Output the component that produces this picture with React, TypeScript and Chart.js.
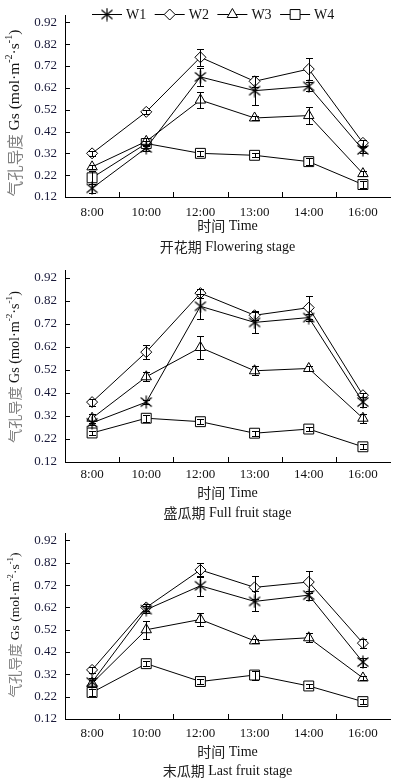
import React, { useEffect, useRef } from 'react';
import { Chart, registerables } from 'chart.js';

Chart.register(...registerables);

// ---------- data ----------
const TIMES = ['8:00', '10:00', '12:00', '13:00', '14:00', '16:00'];
const Y_TICKS = [0.12, 0.22, 0.32, 0.42, 0.52, 0.62, 0.72, 0.82, 0.92];
const SERIES = ['W1', 'W2', 'W3', 'W4'];

// 开花期 Flowering stage
const FLOWER_W1 = [0.16, 0.345, 0.67, 0.607, 0.627, 0.336];
const FLOWER_W2 = [0.32, 0.51, 0.76, 0.65, 0.706, 0.368];
const FLOWER_W3 = [0.258, 0.375, 0.564, 0.482, 0.493, 0.227];
const FLOWER_W4 = [0.208, 0.365, 0.32, 0.311, 0.282, 0.177];
const FLOWER_W1_ERR = [0.02, 0.015, 0.04, 0.065, 0.02, 0.015];
const FLOWER_W2_ERR = [0.01, 0.01, 0.04, 0.025, 0.05, 0.015];
const FLOWER_W3_ERR = [0.01, 0.015, 0.035, 0.01, 0.04, 0.01];
const FLOWER_W4_ERR = [0.03, 0.01, 0.01, 0.01, 0.015, 0.015];

// 盛瓜期 Full fruit stage
const FULL_W1 = [0.29, 0.38, 0.796, 0.726, 0.747, 0.38];
const FULL_W2 = [0.38, 0.597, 0.853, 0.757, 0.79, 0.41];
const FULL_W3 = [0.31, 0.49, 0.617, 0.516, 0.526, 0.31];
const FULL_W4 = [0.246, 0.31, 0.295, 0.245, 0.263, 0.186];
const FULL_W1_ERR = [0.01, 0.01, 0.055, 0.045, 0.015, 0.02];
const FULL_W2_ERR = [0.015, 0.03, 0.02, 0.02, 0.05, 0.01];
const FULL_W3_ERR = [0.02, 0.02, 0.05, 0.02, 0.01, 0.02];
const FULL_W4_ERR = [0.01, 0.015, 0.01, 0.01, 0.01, 0.01];

// 末瓜期 Last fruit stage
const LAST_W1 = [0.285, 0.61, 0.717, 0.647, 0.675, 0.375];
const LAST_W2 = [0.34, 0.62, 0.788, 0.71, 0.734, 0.46];
const LAST_W3 = [0.28, 0.52, 0.566, 0.47, 0.484, 0.304];
const LAST_W4 = [0.239, 0.368, 0.288, 0.317, 0.268, 0.198];
const LAST_W1_ERR = [0.02, 0.015, 0.045, 0.045, 0.02, 0.02];
const LAST_W2_ERR = [0.015, 0.015, 0.03, 0.05, 0.05, 0.02];
const LAST_W3_ERR = [0.015, 0.04, 0.03, 0.01, 0.02, 0.01];
const LAST_W4_ERR = [0.015, 0.01, 0.01, 0.02, 0.01, 0.01];

const Y_MIN = 0.12;
const Y_MAX = 0.95;

// ---------- panel layout ----------
const PANELS = [
  {
    key: 'flower', cn: '开花期', en: ' Flowering stage',
    values: [FLOWER_W1, FLOWER_W2, FLOWER_W3, FLOWER_W4],
    errors: [FLOWER_W1_ERR, FLOWER_W2_ERR, FLOWER_W3_ERR, FLOWER_W4_ERR],
    offset: 0, height: 265, top: 3, bottom: 197, xPad: 8, timeGap: 29, capGap: 50,
    titleCY: 113, titleLen: 167, legend: true,
  },
  {
    key: 'full', cn: '盛瓜期', en: ' Full fruit stage',
    values: [FULL_W1, FULL_W2, FULL_W3, FULL_W4],
    errors: [FULL_W1_ERR, FULL_W2_ERR, FULL_W3_ERR, FULL_W4_ERR],
    offset: 255, height: 270, top: 11, bottom: 207, xPad: 5, timeGap: 31, capGap: 51,
    titleCY: 112, titleLen: 152, legend: false,
  },
  {
    key: 'last', cn: '末瓜期', en: ' Last fruit stage',
    values: [LAST_W1, LAST_W2, LAST_W3, LAST_W4],
    errors: [LAST_W1_ERR, LAST_W2_ERR, LAST_W3_ERR, LAST_W4_ERR],
    offset: 518, height: 262, top: 6, bottom: 201, xPad: 7, timeGap: 33, capGap: 52,
    titleCY: 107, titleLen: 145, legend: false,
  },
];

const SERIF = '"Liberation Serif", "Times New Roman", serif';
const CJK = '"Noto Sans CJK SC", sans-serif';
const RADII = [6, 5.5, 6, 7];

let asteriskImg: HTMLCanvasElement | null = null;
function getAsterisk(): HTMLCanvasElement {
  if (asteriskImg) return asteriskImg;
  const c = document.createElement('canvas');
  c.width = 14;
  c.height = 14;
  const g = c.getContext('2d')!;
  g.strokeStyle = '#000';
  g.lineWidth = 1.2;
  g.beginPath();
  g.moveTo(1.5, 2.5); g.lineTo(12.5, 11.5);
  g.moveTo(1.5, 11.5); g.lineTo(12.5, 2.5);
  g.moveTo(7, 0.5); g.lineTo(7, 13.5);
  g.stroke();
  asteriskImg = c;
  return c;
}

function drawMarker(ctx: CanvasRenderingContext2D, k: number, x: number, y: number) {
  ctx.save();
  ctx.strokeStyle = '#000';
  ctx.fillStyle = '#fff';
  ctx.lineWidth = 1;
  const r = RADII[k];
  ctx.beginPath();
  if (k === 0) {
    ctx.drawImage(getAsterisk(), x - 7, y - 7);
    ctx.restore();
    return;
  } else if (k === 1) {
    ctx.moveTo(x, y - r); ctx.lineTo(x + r, y); ctx.lineTo(x, y + r); ctx.lineTo(x - r, y); ctx.closePath();
  } else if (k === 2) {
    ctx.moveTo(x, y - r);
    ctx.lineTo(x + r * Math.sin(2 * Math.PI / 3), y - r * Math.cos(2 * Math.PI / 3));
    ctx.lineTo(x + r * Math.sin(4 * Math.PI / 3), y - r * Math.cos(4 * Math.PI / 3));
    ctx.closePath();
  } else {
    const s = r * Math.SQRT1_2;
    ctx.rect(x - s, y - s, 2 * s, 2 * s);
  }
  ctx.fill();
  ctx.stroke();
  ctx.restore();
}

function drawMixed(ctx: CanvasRenderingContext2D, parts: any[], cx: number, cy: number, base: number) {
  let total = 0;
  const widths = parts.map((p) => {
    ctx.font = `${base * (p.scale || 1)}px ${p.family}`;
    const w = ctx.measureText(p.text).width;
    total += w;
    return w;
  });
  let x = cx - total / 2;
  ctx.textBaseline = 'middle';
  ctx.textAlign = 'left';
  parts.forEach((p, i) => {
    ctx.font = `${base * (p.scale || 1)}px ${p.family}`;
    ctx.fillStyle = p.color;
    ctx.fillText(p.text, x, cy + (p.dy || 0) * base);
    x += widths[i];
  });
  return total;
}

const decorPlugin = {
  id: 'decor',
  afterDatasetsDraw(chart: any, _args: any, opts: any) {
    const { ctx, scales } = chart;
    const x = scales.x;
    const y = scales.y;
    ctx.save();
    ctx.strokeStyle = '#000';
    ctx.lineWidth = 1;
    chart.data.datasets.forEach((ds: any, k: number) => {
      const errs = opts.errors[k];
      ds.data.forEach((v: number, i: number) => {
        const e = errs[i];
        const px = Math.round(x.getPixelForValue(i)) + 0.5;
        const yt = Math.round(y.getPixelForValue(v + e)) + 0.5;
        const yb = Math.round(y.getPixelForValue(v - e)) + 0.5;
        ctx.beginPath();
        ctx.moveTo(px, yt); ctx.lineTo(px, yb);
        ctx.moveTo(px - 3.5, yt); ctx.lineTo(px + 3.5, yt);
        ctx.moveTo(px - 3.5, yb); ctx.lineTo(px + 3.5, yb);
        ctx.stroke();
      });
    });
    ctx.restore();
  },
  afterDraw(chart: any, _args: any, opts: any) {
    const { ctx, chartArea, scales } = chart;
    const x = scales.x;
    const y = scales.y;
    const { left, right, bottom } = chartArea;
    ctx.save();
    ctx.strokeStyle = '#000';
    ctx.lineWidth = 1;
    // inward ticks on y axis
    ctx.beginPath();
    Y_TICKS.forEach((v) => {
      const py = Math.round(y.getPixelForValue(v)) + 0.5;
      ctx.moveTo(left, py); ctx.lineTo(left + 5, py);
    });
    // inward ticks on x axis at category boundaries
    for (let i = 0; i < TIMES.length - 1; i++) {
      const px = Math.round((x.getPixelForValue(i) + x.getPixelForValue(i + 1)) / 2) + 0.5;
      ctx.moveTo(px, bottom); ctx.lineTo(px, bottom - 5);
    }
    ctx.stroke();

    const cx = (left + right) / 2;
    // x title
    drawMixed(ctx, [
      { text: '时间', family: CJK, color: '#222' },
      { text: ' Time', family: SERIF, color: '#111' },
    ], cx, bottom + opts.timeGap, 14);
    // caption
    drawMixed(ctx, [
      { text: opts.cn, family: CJK, color: '#222' },
      { text: opts.en, family: SERIF, color: '#111' },
    ], cx, bottom + opts.capGap, 14);

    // y title (rotated)
    const parts = [
      { text: '气孔导度', family: CJK, color: '#808080' },
      { text: ' Gs (mol\u00B7m', family: SERIF, color: '#111' },
      { text: '-2', family: SERIF, color: '#111', scale: 0.65, dy: -0.35 },
      { text: '\u00B7s', family: SERIF, color: '#111' },
      { text: '-1', family: SERIF, color: '#111', scale: 0.65, dy: -0.35 },
      { text: ')', family: SERIF, color: '#111' },
    ];
    let tot = 0;
    parts.forEach((p: any) => {
      ctx.font = `${14 * (p.scale || 1)}px ${p.family}`;
      tot += ctx.measureText(p.text).width;
    });
    const base = 14 * opts.titleLen / tot;
    ctx.save();
    ctx.translate(15, opts.titleCY);
    ctx.rotate(-Math.PI / 2);
    drawMixed(ctx, parts, 0, 0, base);
    ctx.restore();

    // legend
    if (opts.legend) {
      const ly = 14;
      SERIES.forEach((name, k) => {
        const x0 = 92 + 62.7 * k;
        ctx.beginPath();
        ctx.moveTo(x0, ly + 0.5); ctx.lineTo(x0 + 30, ly + 0.5);
        ctx.stroke();
        drawMarker(ctx, k, x0 + 15, ly + 0.5);
        ctx.font = `14px ${SERIF}`;
        ctx.fillStyle = '#111';
        ctx.textBaseline = 'middle';
        ctx.textAlign = 'left';
        ctx.fillText(name, x0 + 34, ly + 1);
      });
    }
    ctx.restore();
  },
};

function Panel({ panel }: { panel: any }) {
  const ref = useRef<HTMLCanvasElement>(null);
  useEffect(() => {
    if (!ref.current) return;
    const styles: any[] = [getAsterisk(), 'rectRot', 'triangle', 'rect'];
    const chart = new Chart(ref.current, {
      type: 'line',
      data: {
        labels: TIMES,
        datasets: SERIES.map((name, k) => ({
          label: name,
          data: panel.values[k],
          borderColor: '#000',
          borderWidth: 1,
          backgroundColor: '#fff',
          pointBackgroundColor: '#fff',
          pointBorderColor: '#000',
          pointBorderWidth: 1,
          pointStyle: styles[k],
          pointRadius: RADII[k],
          tension: 0,
          fill: false,
        })),
      },
      options: {
        responsive: false,
        animation: false,
        devicePixelRatio: 1,
        layout: { padding: { top: panel.top, right: 8, left: 0, bottom: 0 } },
        plugins: {
          legend: { display: false },
          tooltip: { enabled: false },
          decor: {
            errors: panel.errors,
            cn: panel.cn,
            en: panel.en,
            timeGap: panel.timeGap,
            capGap: panel.capGap,
            titleCY: panel.titleCY,
            titleLen: panel.titleLen,
            legend: panel.legend,
          },
        } as any,
        scales: {
          x: {
            type: 'category',
            offset: true,
            grid: { display: true, drawOnChartArea: false, drawTicks: false },
            border: { display: true, color: '#000', width: 1 },
            ticks: {
              padding: panel.xPad,
              autoSkip: false,
              maxRotation: 0,
              color: '#111',
              font: { family: SERIF, size: 13 },
            },
            afterFit: (s: any) => { s.height = panel.height - panel.bottom; },
          },
          y: {
            min: Y_MIN,
            max: Y_MAX,
            afterBuildTicks: (s: any) => { s.ticks = Y_TICKS.map((v) => ({ value: v })); },
            grid: { display: true, drawOnChartArea: false, drawTicks: false },
            border: { display: true, color: '#000', width: 1 },
            ticks: {
              padding: 8,
              color: '#1a1a3a',
              font: { family: SERIF, size: 13 },
              callback: (v: any) => Number(v).toFixed(2),
            },
            afterFit: (s: any) => { s.width = 65; },
          },
        },
      } as any,
      plugins: [decorPlugin as any],
    });
    return () => chart.destroy();
  }, [panel]);
  return (
    <canvas
      ref={ref}
      width={398}
      height={panel.height}
      style={{
        position: 'absolute',
        left: 0,
        top: panel.offset,
        display: 'block',
        width: 398,
        height: panel.height,
      }}
    />
  );
}

export default function App() {
  return (
    <div style={{ position: 'absolute', left: 0, top: 0, width: 398, height: 780, background: '#fff', overflow: 'hidden' }}>
      {PANELS.map((p) => (
        <Panel key={p.key} panel={p} />
      ))}
    </div>
  );
}
